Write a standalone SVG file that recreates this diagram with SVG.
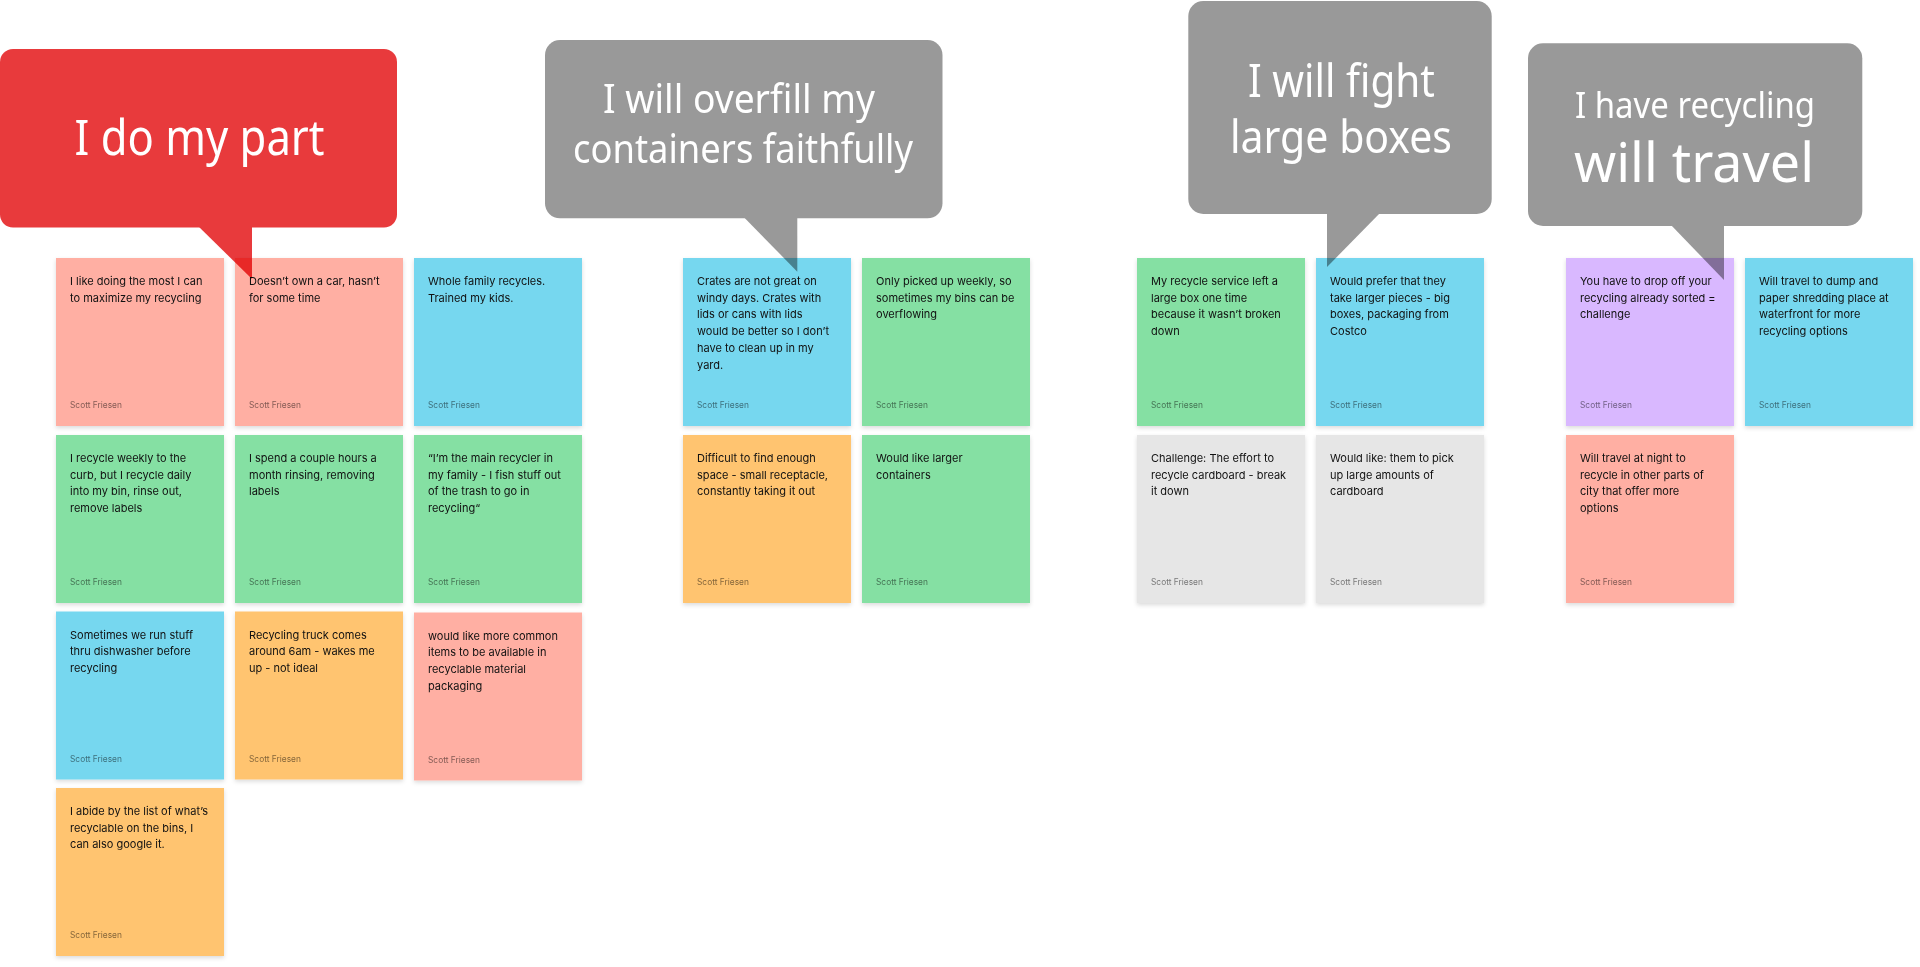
<svg xmlns="http://www.w3.org/2000/svg" width="1920" height="967" viewBox="0 0 1920 967">
<defs>
<filter id="sh" x="-10%" y="-10%" width="120%" height="125%">
<feDropShadow dx="0" dy="2" stdDeviation="2" flood-color="#000" flood-opacity="0.14"/>
</filter>
<style>
.card{filter:url(#sh)}
.pink{fill:#FFAFA3}.green{fill:#85E0A3}.blue{fill:#76D7EF}.orange{fill:#FFC470}.purple{fill:#D9B8FF}.gray{fill:#E6E6E6}
.t{font-family:Inter,"Liberation Sans",sans-serif;font-size:11px;fill:#111111}
.a{font-family:Inter,"Liberation Sans",sans-serif;font-size:8.4px;fill:#000;fill-opacity:0.5}
.bub{mix-blend-mode:multiply}
.bt{font-family:"Noto Sans","Open Sans",sans-serif;fill:#FFFFFF}
</style>
</defs>
<rect width="1920" height="967" fill="#FFFFFF"/>

<!-- Group 1 -->
<g id="n1"><rect class="card pink" x="56" y="258" width="168" height="168"/><text class="t" x="70" y="285"><tspan x="70">I like doing the most I can</tspan><tspan x="70" dy="16.7">to maximize my recycling</tspan></text><text class="a" x="70" y="408">Scott Friesen</text></g>
<g id="n2"><rect class="card pink" x="235" y="258" width="168" height="168"/><text class="t" x="249" y="285"><tspan x="249">Doesn’t own a car, hasn’t</tspan><tspan x="249" dy="16.7">for some time</tspan></text><text class="a" x="249" y="408">Scott Friesen</text></g>
<g id="n3"><rect class="card blue" x="414" y="258" width="168" height="168"/><text class="t" x="428" y="285"><tspan x="428">Whole family recycles.</tspan><tspan x="428" dy="16.7">Trained my kids.</tspan></text><text class="a" x="428" y="408">Scott Friesen</text></g>

<g id="n4"><rect class="card green" x="56" y="435" width="168" height="168"/><text class="t" x="70" y="462"><tspan x="70">I recycle weekly to the</tspan><tspan x="70" dy="16.7">curb, but I recycle daily</tspan><tspan x="70" dy="16.7">into my bin, rinse out,</tspan><tspan x="70" dy="16.7">remove labels</tspan></text><text class="a" x="70" y="585">Scott Friesen</text></g>
<g id="n5"><rect class="card green" x="235" y="435" width="168" height="168"/><text class="t" x="249" y="462"><tspan x="249">I spend a couple hours a</tspan><tspan x="249" dy="16.7">month rinsing, removing</tspan><tspan x="249" dy="16.7">labels</tspan></text><text class="a" x="249" y="585">Scott Friesen</text></g>
<g id="n6"><rect class="card green" x="414" y="435" width="168" height="168"/><text class="t" x="428" y="462"><tspan x="428">“I’m the main recycler in</tspan><tspan x="428" dy="16.7">my family - I fish stuff out</tspan><tspan x="428" dy="16.7">of the trash to go in</tspan><tspan x="428" dy="16.7">recycling“</tspan></text><text class="a" x="428" y="585">Scott Friesen</text></g>

<g id="n7"><rect class="card blue" x="56" y="611.5" width="168" height="168"/><text class="t" x="70" y="638.5"><tspan x="70">Sometimes we run stuff</tspan><tspan x="70" dy="16.7">thru dishwasher before</tspan><tspan x="70" dy="16.7">recycling</tspan></text><text class="a" x="70" y="761.5">Scott Friesen</text></g>
<g id="n8"><rect class="card orange" x="235" y="611.5" width="168" height="168"/><text class="t" x="249" y="638.5"><tspan x="249">Recycling truck comes</tspan><tspan x="249" dy="16.7">around 6am - wakes me</tspan><tspan x="249" dy="16.7">up - not ideal</tspan></text><text class="a" x="249" y="761.5">Scott Friesen</text></g>
<g id="n9"><rect class="card pink" x="414" y="612.5" width="168" height="168"/><text class="t" x="428" y="639.5"><tspan x="428">would like more common</tspan><tspan x="428" dy="16.7">items to be available in</tspan><tspan x="428" dy="16.7">recyclable material</tspan><tspan x="428" dy="16.7">packaging</tspan></text><text class="a" x="428" y="762.5">Scott Friesen</text></g>

<g id="n10"><rect class="card orange" x="56" y="788" width="168" height="168"/><text class="t" x="70" y="815"><tspan x="70">I abide by the list of what’s</tspan><tspan x="70" dy="16.7">recyclable on the bins, I</tspan><tspan x="70" dy="16.7">can also google it.</tspan></text><text class="a" x="70" y="938">Scott Friesen</text></g>

<!-- Group 2 -->
<g id="n11"><rect class="card blue" x="683" y="258" width="168" height="168"/><text class="t" x="697" y="285"><tspan x="697">Crates are not great on</tspan><tspan x="697" dy="16.7">windy days. Crates with</tspan><tspan x="697" dy="16.7">lids or cans with lids</tspan><tspan x="697" dy="16.7">would be better so I don’t</tspan><tspan x="697" dy="16.7">have to clean up in my</tspan><tspan x="697" dy="16.7">yard.</tspan></text><text class="a" x="697" y="408">Scott Friesen</text></g>
<g id="n12"><rect class="card green" x="862" y="258" width="168" height="168"/><text class="t" x="876" y="285"><tspan x="876">Only picked up weekly, so</tspan><tspan x="876" dy="16.7">sometimes my bins can be</tspan><tspan x="876" dy="16.7">overflowing</tspan></text><text class="a" x="876" y="408">Scott Friesen</text></g>
<g id="n13"><rect class="card orange" x="683" y="435" width="168" height="168"/><text class="t" x="697" y="462"><tspan x="697">Difficult to find enough</tspan><tspan x="697" dy="16.7">space - small receptacle,</tspan><tspan x="697" dy="16.7">constantly taking it out</tspan></text><text class="a" x="697" y="585">Scott Friesen</text></g>
<g id="n14"><rect class="card green" x="862" y="435" width="168" height="168"/><text class="t" x="876" y="462"><tspan x="876">Would like larger</tspan><tspan x="876" dy="16.7">containers</tspan></text><text class="a" x="876" y="585">Scott Friesen</text></g>

<!-- Group 3 -->
<g id="n15"><rect class="card green" x="1137" y="258" width="168" height="168"/><text class="t" x="1151" y="285"><tspan x="1151">My recycle service left a</tspan><tspan x="1151" dy="16.7">large box one time</tspan><tspan x="1151" dy="16.7">because it wasn’t broken</tspan><tspan x="1151" dy="16.7">down</tspan></text><text class="a" x="1151" y="408">Scott Friesen</text></g>
<g id="n16"><rect class="card blue" x="1316" y="258" width="168" height="168"/><text class="t" x="1330" y="285"><tspan x="1330">Would prefer that they</tspan><tspan x="1330" dy="16.7">take larger pieces - big</tspan><tspan x="1330" dy="16.7">boxes, packaging from</tspan><tspan x="1330" dy="16.7">Costco</tspan></text><text class="a" x="1330" y="408">Scott Friesen</text></g>
<g id="n17"><rect class="card gray" x="1137" y="435" width="168" height="168"/><text class="t" x="1151" y="462"><tspan x="1151">Challenge: The effort to</tspan><tspan x="1151" dy="16.7">recycle cardboard - break</tspan><tspan x="1151" dy="16.7">it down</tspan></text><text class="a" x="1151" y="585">Scott Friesen</text></g>
<g id="n18"><rect class="card gray" x="1316" y="435" width="168" height="168"/><text class="t" x="1330" y="462"><tspan x="1330">Would like: them to pick</tspan><tspan x="1330" dy="16.7">up large amounts of</tspan><tspan x="1330" dy="16.7">cardboard</tspan></text><text class="a" x="1330" y="585">Scott Friesen</text></g>

<!-- Group 4 -->
<g id="n19"><rect class="card purple" x="1566" y="258" width="168" height="168"/><text class="t" x="1580" y="285"><tspan x="1580">You have to drop off your</tspan><tspan x="1580" dy="16.7">recycling already sorted =</tspan><tspan x="1580" dy="16.7">challenge</tspan></text><text class="a" x="1580" y="408">Scott Friesen</text></g>
<g id="n20"><rect class="card blue" x="1745" y="258" width="168" height="168"/><text class="t" x="1759" y="285"><tspan x="1759">Will travel to dump and</tspan><tspan x="1759" dy="16.7">paper shredding place at</tspan><tspan x="1759" dy="16.7">waterfront for more</tspan><tspan x="1759" dy="16.7">recycling options</tspan></text><text class="a" x="1759" y="408">Scott Friesen</text></g>
<g id="n21"><rect class="card pink" x="1566" y="435" width="168" height="168"/><text class="t" x="1580" y="462"><tspan x="1580">Will travel at night to</tspan><tspan x="1580" dy="16.7">recycle in other parts of</tspan><tspan x="1580" dy="16.7">city that offer more</tspan><tspan x="1580" dy="16.7">options</tspan></text><text class="a" x="1580" y="585">Scott Friesen</text></g>

<!-- Speech bubbles -->
<g id="b1" class="bub">
<rect x="0" y="49" width="397" height="178.5" rx="13" fill="#E83A3C"/>
<polygon points="197,225 252,225 252,279" fill="#E83A3C"/>
<text class="bt" x="74.6" y="155" font-size="49" textLength="250" lengthAdjust="spacingAndGlyphs">I do my part</text>
</g>
<g id="b2" class="bub">
<rect x="545" y="40" width="397.5" height="178.3" rx="15" fill="#999999"/>
<polygon points="742.7,216 797.3,216 797.3,271.7" fill="#999999"/>
<text class="bt" x="603" y="113" font-size="40" textLength="272" lengthAdjust="spacingAndGlyphs">I will overfill my</text>
<text class="bt" x="573" y="162.7" font-size="40" textLength="340" lengthAdjust="spacingAndGlyphs">containers faithfully</text>
</g>
<g id="b3" class="bub">
<rect x="1188.3" y="1" width="303.4" height="213" rx="15" fill="#999999"/>
<polygon points="1327,212 1381,212 1327,267" fill="#999999"/>
<text class="bt" x="1248" y="97" font-size="45" textLength="187" lengthAdjust="spacingAndGlyphs">I will fight</text>
<text class="bt" x="1230" y="152.7" font-size="45" textLength="222" lengthAdjust="spacingAndGlyphs">large boxes</text>
</g>
<g id="b4" class="bub">
<rect x="1528" y="43.3" width="334.3" height="182.7" rx="15" fill="#999999"/>
<polygon points="1670,224 1724,224 1724,280" fill="#999999"/>
<text class="bt" x="1575" y="118" font-size="36" textLength="240" lengthAdjust="spacingAndGlyphs">I have recycling</text>
<text class="bt" x="1574" y="181.7" font-size="55" textLength="240" lengthAdjust="spacingAndGlyphs">will travel</text>
</g>
<g id="connectors"></g>
</svg>
